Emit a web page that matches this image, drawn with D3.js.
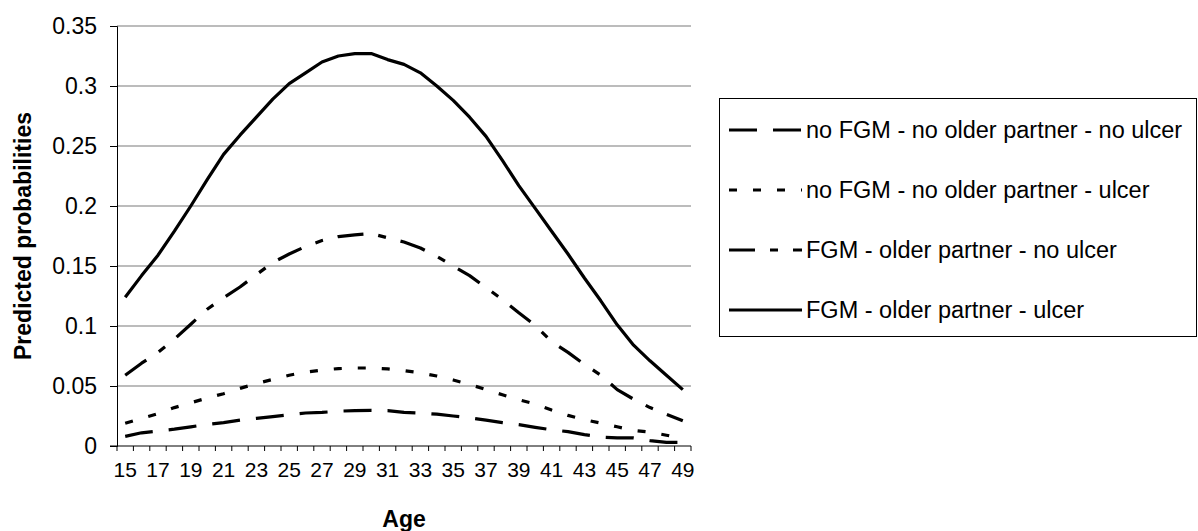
<!DOCTYPE html>
<html>
<head>
<meta charset="utf-8">
<script src="https://cdn.jsdelivr.net/npm/d3@7"></script>
<style>
  html, body { margin: 0; padding: 0; background: #fff; }
  svg { display: block; }
</style>
</head>
<body>
<div id="chart"></div>
<script>
// Ages on the category axis
const AGES = [15, 16, 17, 18, 19, 20, 21, 22, 23, 24, 25, 26, 27, 28, 29, 30, 31, 32,
  33, 34, 35, 36, 37, 38, 39, 40, 41, 42, 43, 44, 45, 46, 47, 48, 49];
const AGE_LABELS = [15, 17, 19, 21, 23, 25, 27, 29, 31, 33, 35, 37, 39, 41, 43, 45, 47, 49];
const Y_TICKS = [0, 0.05, 0.1, 0.15, 0.2, 0.25, 0.3, 0.35];

const SERIES_NAMES = [
  "no FGM - no older partner - no ulcer",
  "no FGM - no older partner - ulcer",
  "FGM - older partner - no ulcer",
  "FGM - older partner - ulcer",
];

const NOFGM_NOOLDER_NOULCER = [0.008, 0.011, 0.0125, 0.014, 0.016, 0.018, 0.0195, 0.0215, 0.023,
  0.0245, 0.026, 0.0275, 0.028, 0.029, 0.0295, 0.0297, 0.0295, 0.028, 0.0275, 0.0265, 0.025,
  0.0235, 0.0215, 0.0195, 0.0178, 0.0155, 0.0135, 0.012, 0.0095, 0.0075, 0.0067, 0.0067,
  0.0045, 0.003, 0.003];
const NOFGM_NOOLDER_ULCER = [0.019, 0.023, 0.027, 0.032, 0.036, 0.040, 0.0436, 0.048, 0.052,
  0.0555, 0.059, 0.0615, 0.0633, 0.0645, 0.065, 0.065, 0.0643, 0.0628, 0.061, 0.0583, 0.055,
  0.0513, 0.047, 0.0427, 0.0386, 0.035, 0.030, 0.0255, 0.022, 0.019, 0.016, 0.013, 0.0115,
  0.009, 0.006];
const FGM_OLDER_NOULCER = [0.059, 0.069, 0.078, 0.089, 0.1015, 0.114, 0.1236, 0.1325, 0.1428,
  0.1529, 0.160, 0.1663, 0.1712, 0.1745, 0.176, 0.177, 0.1735, 0.170, 0.165, 0.158, 0.150,
  0.142, 0.132, 0.122, 0.111, 0.1005, 0.087, 0.078, 0.068, 0.059, 0.047, 0.039, 0.032,
  0.0265, 0.021];
const FGM_OLDER_ULCER = [0.124, 0.142, 0.159, 0.179, 0.200, 0.222, 0.243, 0.259, 0.274, 0.289,
  0.302, 0.311, 0.320, 0.325, 0.327, 0.327, 0.322, 0.318, 0.311, 0.300, 0.288, 0.274, 0.258,
  0.238, 0.217, 0.198, 0.179, 0.160, 0.140, 0.121, 0.101, 0.084, 0.071, 0.059, 0.047];

(function () {
  "use strict";

  const W = 1198, H = 531;
  const FONT = "Arial, 'Liberation Sans', sans-serif";
  const plot = { left: 117, right: 691, top: 26, bottom: 446 };

  // dash patterns per series, same order as SERIES_NAMES
  const DASHES = ["28,16", "8,16", "26,15,8,15", null];
  const seriesValues = [NOFGM_NOOLDER_NOULCER, NOFGM_NOOLDER_ULCER, FGM_OLDER_NOULCER, FGM_OLDER_ULCER];

  const svg = d3.select("#chart").append("svg")
    .attr("width", W).attr("height", H)
    .attr("viewBox", `0 0 ${W} ${H}`);

  const x = d3.scaleBand().domain(AGES).range([plot.left, plot.right]).padding(0);
  const y = d3.scaleLinear().domain([0, 0.35]).range([plot.bottom, plot.top]);

  // Gridlines
  svg.append("g")
    .selectAll("line")
    .data(Y_TICKS.filter((d) => d > 0))
    .enter().append("line")
    .attr("x1", plot.left).attr("x2", plot.right)
    .attr("y1", (d) => y(d)).attr("y2", (d) => y(d))
    .attr("stroke", "#7a7a7a")
    .attr("stroke-width", 1.2);

  // Y axis
  const yAxis = svg.append("g")
    .attr("transform", `translate(${plot.left},0)`)
    .call(d3.axisLeft(y).tickValues(Y_TICKS).tickSize(7).tickPadding(13)
      .tickFormat((d) => String(+d.toFixed(2))));
  yAxis.select(".domain").attr("stroke", "#000");
  yAxis.selectAll(".tick line").attr("stroke", "#000");
  yAxis.selectAll("text")
    .attr("font-family", FONT).attr("font-size", "23px").attr("fill", "#000");

  // X axis: line, boundary ticks, labels on odd ages
  const xAxis = svg.append("g")
    .attr("transform", `translate(0,${plot.bottom})`)
    .call(d3.axisBottom(x).tickValues(AGE_LABELS).tickSize(0).tickPadding(16));
  xAxis.select(".domain").remove();
  xAxis.selectAll("text")
    .attr("font-family", FONT).attr("font-size", "21px").attr("fill", "#000");

  const edges = AGES.map((a) => x(a)).concat([x(AGES[AGES.length - 1]) + x.step()]);
  svg.append("g")
    .selectAll("line")
    .data(edges)
    .enter().append("line")
    .attr("x1", (d) => d).attr("x2", (d) => d)
    .attr("y1", plot.bottom).attr("y2", plot.bottom + 5)
    .attr("stroke", "#000");
  svg.append("line")
    .attr("x1", plot.left - 7).attr("x2", plot.right)
    .attr("y1", plot.bottom).attr("y2", plot.bottom)
    .attr("stroke", "#000");

  // Axis titles
  svg.append("text")
    .attr("transform", `translate(31,${(plot.top + plot.bottom) / 2}) rotate(-90)`)
    .attr("text-anchor", "middle")
    .attr("font-family", FONT).attr("font-size", "23px").attr("font-weight", "bold")
    .text("Predicted probabilities");
  svg.append("text")
    .attr("x", (plot.left + plot.right) / 2).attr("y", 527)
    .attr("text-anchor", "middle")
    .attr("font-family", FONT).attr("font-size", "23px").attr("font-weight", "bold")
    .text("Age");

  // Series lines
  const line = d3.line()
    .x((d, i) => x(AGES[i]) + x.bandwidth() / 2)
    .y((d) => y(d));

  seriesValues.forEach((vals, i) => {
    svg.append("path")
      .datum(vals)
      .attr("d", line)
      .attr("fill", "none")
      .attr("stroke", "#000")
      .attr("stroke-width", 3.2)
      .attr("stroke-linejoin", "round")
      .attr("stroke-dasharray", DASHES[i]);
  });

  // Legend
  const lg = svg.append("g");
  lg.append("rect")
    .attr("x", 719.5).attr("y", 98.5)
    .attr("width", 477).attr("height", 238)
    .attr("fill", "#fff").attr("stroke", "#000").attr("stroke-width", 1);

  SERIES_NAMES.forEach((name, i) => {
    const cy = 130 + i * 60;
    lg.append("line")
      .attr("x1", 729).attr("x2", 802)
      .attr("y1", cy).attr("y2", cy)
      .attr("stroke", "#000").attr("stroke-width", 3.2)
      .attr("stroke-dasharray", DASHES[i]);
    lg.append("text")
      .attr("x", 806).attr("y", cy).attr("dy", "0.35em")
      .attr("font-family", FONT).attr("font-size", "23.5px").attr("fill", "#000")
      .text(name);
  });
})();
</script>
</body>
</html>
